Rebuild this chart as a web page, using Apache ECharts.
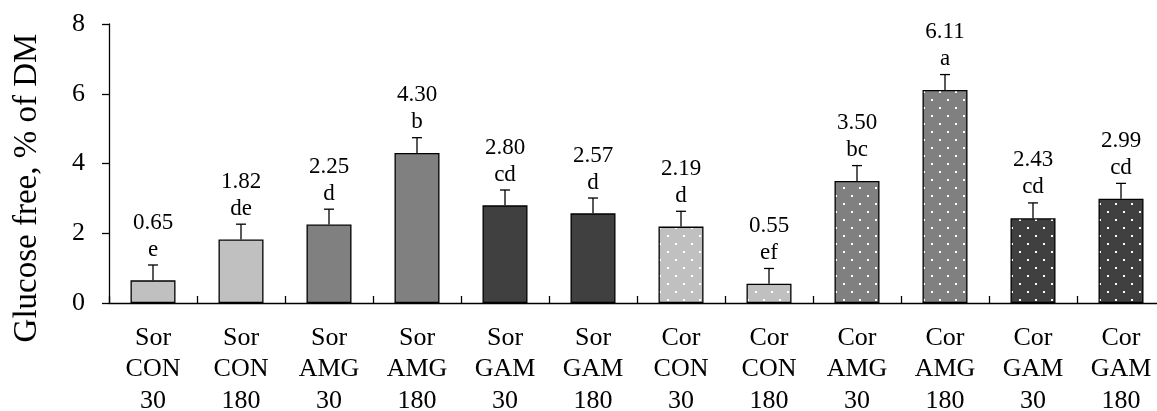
<!DOCTYPE html>
<html>
<head>
<meta charset="utf-8">
<script src="https://cdn.jsdelivr.net/npm/echarts@6/dist/echarts.min.js"></script>
<style>
  html, body { margin: 0; padding: 0; background: #fff; }
  #chart { width: 1157px; height: 411px; }
</style>
</head>
<body>
<div id="chart"></div>
<script>
// Free glucose (% of DM) by forage, additive and incubation time
const forage    = ['Sor', 'Sor', 'Sor', 'Sor', 'Sor', 'Sor', 'Cor', 'Cor', 'Cor', 'Cor', 'Cor', 'Cor'];
const additive  = ['CON', 'CON', 'AMG', 'AMG', 'GAM', 'GAM', 'CON', 'CON', 'AMG', 'AMG', 'GAM', 'GAM'];
const duration  = ['30', '180', '30', '180', '30', '180', '30', '180', '30', '180', '30', '180'];
const glucose   = [0.65, 1.82, 2.25, 4.30, 2.80, 2.57, 2.19, 0.55, 3.50, 6.11, 2.43, 2.99];
const sem       = [0.44, 0.44, 0.44, 0.44, 0.44, 0.44, 0.44, 0.44, 0.44, 0.44, 0.44, 0.44];
const letters   = ['e', 'de', 'd', 'b', 'cd', 'd', 'd', 'ef', 'bc', 'a', 'cd', 'cd'];
const yTicks    = [0, 2, 4, 6, 8];

const categories = forage.map((f, i) => f + '\n' + additive[i] + '\n' + duration[i]);

// Fill shade per additive; corn bars get a white dot pattern
const shade = { CON: '#c0c0c0', AMG: '#808080', GAM: '#404040' };

function dotted(base) {
  const c = document.createElement('canvas');
  c.width = 16; c.height = 16;
  const g = c.getContext('2d');
  g.fillStyle = base;
  g.fillRect(0, 0, 16, 16);
  g.fillStyle = '#ffffff';
  g.fillRect(3, 3, 2, 2);
  g.fillRect(11, 11, 2, 2);
  return { image: c, repeat: 'repeat' };
}

const FONT = '"Liberation Serif", "Times New Roman", serif';

const barData = glucose.map((v, i) => ({
  value: v,
  itemStyle: {
    color: forage[i] === 'Cor' ? dotted(shade[additive[i]]) : shade[additive[i]]
  }
}));

const chart = echarts.init(document.getElementById('chart'), null, { renderer: 'canvas' });

chart.setOption({
  animation: false,
  backgroundColor: '#ffffff',
  grid: { left: 109, top: 24, width: 1056, height: 279, containLabel: false, outerBoundsMode: 'none' },
  xAxis: {
    type: 'category',
    data: categories,
    boundaryGap: true,
    axisLine: { lineStyle: { color: '#000', width: 1.3 } },
    axisTick: { show: true, inside: true, length: 7, alignWithLabel: false, lineStyle: { color: '#000', width: 1.3 } },
    axisLabel: {
      interval: 0,
      margin: 19,
      color: '#000',
      fontFamily: FONT,
      fontSize: 26,
      lineHeight: 31.5
    }
  },
  yAxis: {
    type: 'value',
    min: yTicks[0],
    max: yTicks[yTicks.length - 1],
    interval: 2,
    splitLine: { show: false },
    axisLine: { show: true, lineStyle: { color: '#000', width: 1.3 } },
    axisTick: { show: true, inside: false, length: 7, lineStyle: { color: '#000', width: 1.3 } },
    axisLabel: { margin: 24, color: '#000', fontFamily: FONT, fontSize: 26 }
  },
  graphic: [{
    type: 'text',
    x: 27,
    y: 188,
    rotation: Math.PI / 2,
    style: {
      text: 'Glucose free, % of DM',
      font: '33px ' + FONT,
      fill: '#000',
      align: 'center',
      verticalAlign: 'middle'
    }
  }],
  series: [
    {
      type: 'bar',
      data: barData,
      barWidth: 45,
      itemStyle: { borderColor: '#000', borderWidth: 1.3 },
      z: 2
    },
    {
      // error bars with mean and significance letters above
      type: 'custom',
      data: glucose.map((v, i) => [i, v, sem[i]]),
      z: 3,
      renderItem: function (params, api) {
        const i = api.value(0);
        const v = api.value(1);
        const e = api.value(2);
        const base = api.coord([i, v]);
        const top = api.coord([i, v + e]);
        const half = 5;
        return {
          type: 'group',
          children: [
            { type: 'line', shape: { x1: base[0], y1: base[1], x2: top[0], y2: top[1] }, style: { stroke: '#000', lineWidth: 1.3 } },
            { type: 'line', shape: { x1: top[0] - half, y1: top[1], x2: top[0] + half, y2: top[1] }, style: { stroke: '#000', lineWidth: 1.3 } },
            {
              type: 'text',
              x: top[0],
              y: top[1] - 2,
              style: {
                text: glucose[i].toFixed(2) + '\n' + letters[i],
                font: '23px ' + FONT,
                lineHeight: 27,
                fill: '#000',
                align: 'center',
                verticalAlign: 'bottom'
              }
            }
          ]
        };
      }
    }
  ]
});
</script>
</body>
</html>
